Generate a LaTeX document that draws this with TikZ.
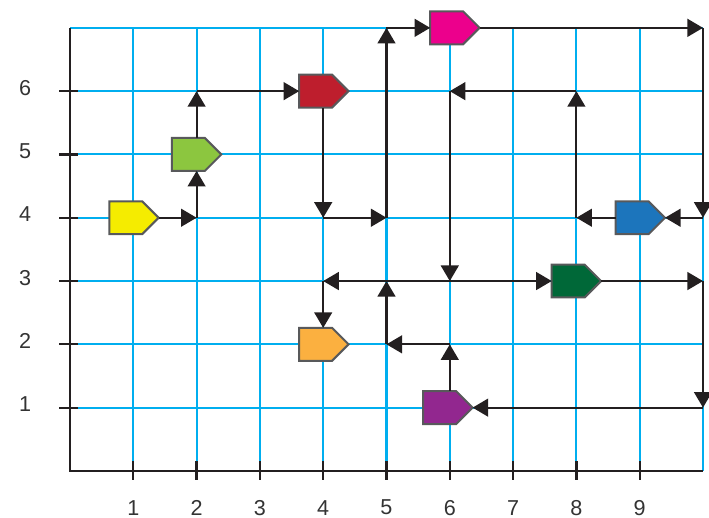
\documentclass[tikz,border=0pt]{standalone}
\usepackage{fontspec}
\setmainfont{Liberation Sans}
\usetikzlibrary{arrows.meta,shapes.symbols}
\definecolor{gridblue}{RGB}{0,174,239}
\definecolor{inkblack}{RGB}{35,31,32}
\definecolor{labgray}{RGB}{51,51,51}
\definecolor{outl}{RGB}{88,89,91}
\definecolor{cYellow}{RGB}{245,236,0}
\definecolor{cGreen}{RGB}{140,198,63}
\definecolor{cRed}{RGB}{190,30,45}
\definecolor{cMagenta}{RGB}{236,0,140}
\definecolor{cBlue}{RGB}{28,117,188}
\definecolor{cDark}{RGB}{0,104,56}
\definecolor{cOrange}{RGB}{251,176,64}
\definecolor{cPurple}{RGB}{146,39,143}
\tikzset{
  gridline/.style={draw=gridblue, line width=0.95pt},
  axisline/.style={draw=inkblack, line width=1pt},
  arr/.style={draw=inkblack, line width=0.9pt, -{Triangle[length=7pt,width=8pt]}},
  tagbox/.style={signal, signal to=east, signal pointer angle=90, draw=outl, line width=0.9pt,
     minimum width=0.78cm, minimum height=0.52cm, inner sep=0pt, outer sep=0pt, anchor=west},
  lab/.style={text=labgray, font=\fontsize{9.7}{11}\selectfont, inner sep=0pt}
}
\begin{document}
\begin{tikzpicture}
\useasboundingbox (-1.106,-0.742) rectangle (10.095,7.44);
% grid
\foreach \x in {1,...,9} \draw[gridline] (\x,0.16) -- (\x,7);
\draw[gridline] (10,0) -- (10,7);
\foreach \y in {1,...,6} \draw[gridline] (0.13,\y) -- (10,\y);
\draw[gridline] (0,7) -- (10,7);
% axes
\draw[axisline] (0,7) -- (0,0) -- (10,0);
\foreach \y in {1,...,6} {
  \draw[axisline] (-0.17,\y) -- (0.13,\y);
  \node[lab] (ly\y) at (-0.71,\y+0.05) {\y};
}
\foreach \x in {1,...,9} {
  \draw[axisline] (\x,-0.14) -- (\x,0.16);
  \node[lab] (lx\x) at (\x,-0.58) {\x};
}
% junctions
\coordinate (j24) at (2,4);
\coordinate (j26) at (2,6);
\coordinate (j44) at (4,4);
\coordinate (j54) at (5,4);
\coordinate (j57) at (5,7);
\coordinate (jA7) at (10,7);
\coordinate (jA4) at (10,4);
\coordinate (j84) at (8,4);
\coordinate (j86) at (8,6);
\coordinate (j66) at (6,6);
\coordinate (j63) at (6,3);
\coordinate (j43) at (4,3);
\coordinate (jA3) at (10,3);
\coordinate (jA1) at (10,1);
\coordinate (j62) at (6,2);
\coordinate (j52) at (5,2);
\coordinate (j53) at (5,3);
% tags
\node[tagbox, fill=cYellow] (Y) at (0.62,4) {};
\node[tagbox, fill=cGreen] (G) at (1.61,5) {};
\node[tagbox, fill=cRed] (R) at (3.62,6) {};
\node[tagbox, fill=cMagenta] (M) at (5.69,7) {};
\node[tagbox, fill=cBlue] (B) at (8.62,4) {};
\node[tagbox, fill=cDark] (D) at (7.61,3) {};
\node[tagbox, fill=cOrange] (O) at (3.62,2) {};
\node[tagbox, fill=cPurple] (P) at (5.58,1) {};
% connectors
\draw[arr] (Y.east) -- (j24);
\draw[arr] (j24) -- (j24 |- G.south);
\draw[arr] (j24 |- G.north) -- (j26);
\draw[arr] (j26) -- (R.west);
\draw[arr] (j44 |- R.south) -- (j44);
\draw[arr] (j44) -- (j54);
\draw[arr] (j54) -- (j57);
\draw[arr] (j57) -- (M.west);
\draw[arr] (M.east) -- (jA7);
\draw[arr] (jA7) -- (jA4);
\draw[arr] (jA4) -- (B.east);
\draw[arr] (B.west) -- (j84);
\draw[arr] (j84) -- (j86);
\draw[arr] (j86) -- (j66);
\draw[arr] (j66) -- (j63);
\draw[arr] (j63) -- (j43);
\draw[arr] (j63) -- (D.west);
\draw[arr] (j43) -- (j43 |- O.north);
\draw[arr] (D.east) -- (jA3);
\draw[arr] (jA3) -- (jA1);
\draw[arr] (jA1) -- (P.east);
\draw[arr] (j62 |- P.north) -- (j62);
\draw[arr] (j62) -- (j52);
\draw[arr] (j52) -- (j53);
\end{tikzpicture}
\end{document}
